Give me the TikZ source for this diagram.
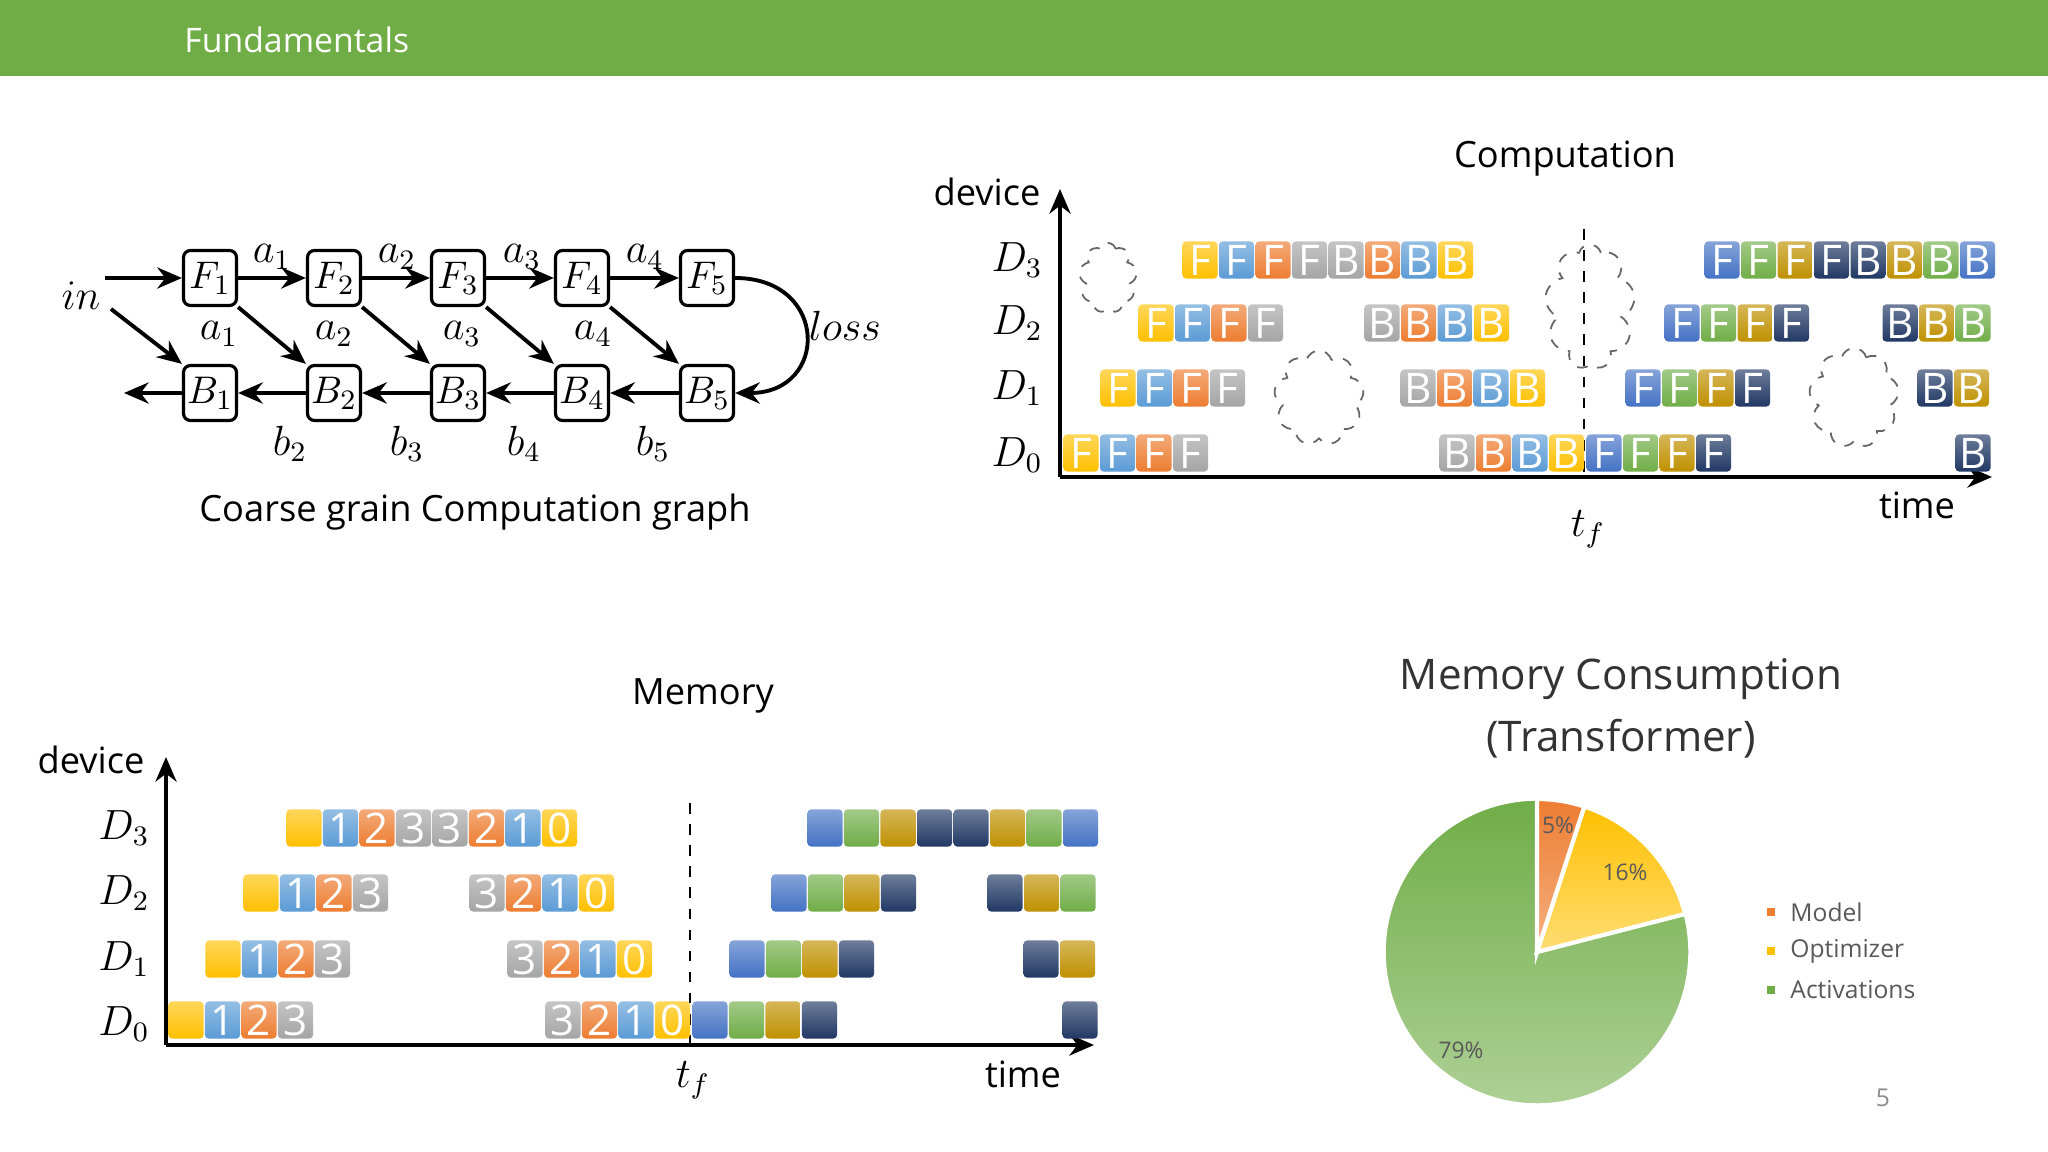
\documentclass[tikz,border=0pt]{standalone}
\usepackage{fontspec}
\setmainfont{Open Sans}
\usetikzlibrary{arrows.meta,shapes.symbols}
\definecolor{hdr}{HTML}{70AD47}
\definecolor{cy}{HTML}{FFC000}
\definecolor{cb}{HTML}{5B9BD5}
\definecolor{co}{HTML}{ED7D31}
\definecolor{cg}{HTML}{A5A5A5}
\definecolor{cb2}{HTML}{4472C4}
\definecolor{cgr}{HTML}{70AD47}
\definecolor{cgo}{HTML}{BF9000}
\definecolor{cn}{HTML}{203864}
\definecolor{txg}{HTML}{595959}
\tikzset{
  blk/.style={minimum width=0.35cm,minimum height=0.37cm,inner sep=0pt,rounded corners=1pt,
    text=white,font=\fontsize{12}{12}\selectfont},
  gbox/.style={draw,line width=0.9pt,fill=white,rounded corners=2pt,minimum width=0.53cm,minimum height=0.55cm,inner sep=0pt,font=\fontsize{11}{13}\selectfont},
  arr/.style={line width=1.1pt,-{Stealth[length=7pt,width=6pt]}},
  ax/.style={line width=1.1pt,-{Stealth[length=7pt,width=6pt]}},
  lbl/.style={font=\fontsize{12}{14}\selectfont},
  ttl/.style={font=\fontsize{10.3}{12}\selectfont},
  thought/.style={cloud,cloud puffs=9,cloud puff arc=150,draw=black!60,dashed,line width=0.5pt,aspect=0.8},
}
\newcommand\rowblk[3]{%
  \foreach [count=\i] \c/\t in {#3} {
    \node[blk,top color=\c!65!white,bottom color=\c] (n#1-#2-\i) at ({#1+18+(\i-1)*36.5},#2) {\t};
  }}
\begin{document}
\begin{tikzpicture}[x=0.01cm,y=-0.01cm]
\useasboundingbox (0,0) rectangle (2048,1152);
\fill[white] (0,0) rectangle (2048,1152);
\fill[hdr] (0,0) rectangle (2048,76);
\node[anchor=west,text=white,font=\fontsize{9.6}{12}\selectfont] (hd) at (172,40) {Fundamentals};

% ---------- computation graph
\foreach \k/\x in {1/210,2/334,3/458,4/582,5/707}{
  \node[gbox] (F\k) at (\x,278) {$F_\k$};
  \node[gbox] (B\k) at (\x,393) {$B_\k$};
}
\node[lbl] (in) at (81,296) {$in$};
\coordinate (inS) at (105,278);
\coordinate (inD) at (111,309);
\coordinate (bout) at (124,393);
\draw[arr] (inS) -- (F1);
\draw[arr] (inD) -- (B1.north west);
\foreach \a/\b in {1/2,2/3,3/4,4/5}{
  \draw[arr] (F\a) -- (F\b);
  \draw[arr] (F\a.south east) -- (B\b.north west);
  \draw[arr] (B\b) -- (B\a);
}
\draw[arr] (B1) -- (bout);
\draw[arr] (F5.east) to[out=0,in=0,looseness=2.1] (B5.east);
\node[lbl] (loss) at (845,326) {$loss$};
\foreach \k/\x in {1/272,2/397,3/522,4/645}{\node[lbl] (at\k) at (\x,257) {$a_\k$};}
\foreach \k/\x in {1/219,2/334,3/462,4/593}{\node[lbl] (ab\k) at (\x,334) {$a_\k$};}
\foreach \k/\x in {2/290,3/407,4/524,5/653}{\node[lbl] (bb\k) at (\x,444) {$b_\k$};}
\node[ttl] (cgt) at (475,512) {Coarse grain Computation graph};

% ---------- computation timeline
\coordinate (cO) at (1060,477);
\coordinate (cY) at (1060,189);
\coordinate (cX) at (1992,477);
\draw[ax] (cO) -- (cY);
\draw[ax] (cO) -- (cX);
\node[ttl] (dev1) at (987,192) {device};
\node[ttl] (comp) at (1565,159) {Computation};
\node[ttl] (time1) at (1917,505) {time};
\node[lbl] (tf1) at (1588,529) {$t_f$};
\foreach \k/\y in {3/260,2/323,1/388,0/455}{\node[lbl] (cD\k) at (1017,\y) {$D_\k$};}
\coordinate (cdt) at (1584,229);
\coordinate (cdb) at (1584,477);
\draw[dashed,line width=0.8pt] (cdt) -- (cdb);
\node[thought,minimum width=0.58cm,minimum height=0.7cm] (cl1) at (1108,278) {};
\node[thought,minimum width=0.9cm,minimum height=0.95cm] (cl2) at (1319,398) {};
\node[thought,minimum width=0.9cm,minimum height=1.25cm] (cl3) at (1590,307) {};
\node[thought,minimum width=0.9cm,minimum height=1.0cm] (cl4) at (1854,398) {};
\rowblk{1182}{260}{cy/F,cb/F,co/F,cg/F,cg/B,co/B,cb/B,cy/B}
\rowblk{1704}{260}{cb2/F,cgr/F,cgo/F,cn/F,cn/B,cgo/B,cgr/B,cb2/B}
\rowblk{1138}{323}{cy/F,cb/F,co/F,cg/F}
\rowblk{1364}{323}{cg/B,co/B,cb/B,cy/B}
\rowblk{1664}{323}{cb2/F,cgr/F,cgo/F,cn/F}
\rowblk{1882}{323}{cn/B,cgo/B,cgr/B}
\rowblk{1100}{388}{cy/F,cb/F,co/F,cg/F}
\rowblk{1400}{388}{cg/B,co/B,cb/B,cy/B}
\rowblk{1625}{388}{cb2/F,cgr/F,cgo/F,cn/F}
\rowblk{1917}{388}{cn/B,cgo/B}
\rowblk{1063}{453}{cy/F,cb/F,co/F,cg/F}
\rowblk{1439}{453}{cg/B,co/B,cb/B,cy/B}
\rowblk{1586}{453}{cb2/F,cgr/F,cgo/F,cn/F}
\rowblk{1955}{453}{cn/B}

% ---------- memory timeline
\coordinate (mO) at (166,1045);
\coordinate (mY) at (166,757);
\coordinate (mX) at (1094,1045);
\draw[ax] (mO) -- (mY);
\draw[ax] (mO) -- (mX);
\node[ttl] (dev2) at (91,760) {device};
\node[ttl] (mem) at (703,696) {Memory};
\node[ttl] (time2) at (1023,1074) {time};
\node[lbl] (tf2) at (693,1080) {$t_f$};
\foreach \k/\y in {3/828,2/893,1/959,0/1024}{\node[lbl] (mD\k) at (124,\y) {$D_\k$};}
\coordinate (mdt) at (690,803);
\coordinate (mdb) at (690,1045);
\draw[dashed,line width=0.8pt] (mdt) -- (mdb);
\rowblk{286}{828}{cy/,cb/1,co/2,cg/3,cg/3,co/2,cb/1,cy/0}
\rowblk{807}{828}{cb2/,cgr/,cgo/,cn/,cn/,cgo/,cgr/,cb2/}
\rowblk{243}{893}{cy/,cb/1,co/2,cg/3}
\rowblk{469}{893}{cg/3,co/2,cb/1,cy/0}
\rowblk{771}{893}{cb2/,cgr/,cgo/,cn/}
\rowblk{987}{893}{cn/,cgo/,cgr/}
\rowblk{205}{959}{cy/,cb/1,co/2,cg/3}
\rowblk{507}{959}{cg/3,co/2,cb/1,cy/0}
\rowblk{729}{959}{cb2/,cgr/,cgo/,cn/}
\rowblk{1023}{959}{cn/,cgo/}
\rowblk{168}{1020}{cy/,cb/1,co/2,cg/3}
\rowblk{545}{1020}{cg/3,co/2,cb/1,cy/0}
\rowblk{692}{1020}{cb2/,cgr/,cgo/,cn/}
\rowblk{1062}{1020}{cn/}

% ---------- pie
\node[font=\fontsize{12}{15}\selectfont,text=black!80] (mc1) at (1621,679) {Memory Consumption};
\node[font=\fontsize{12}{15}\selectfont,text=black!80] (mc2) at (1621,739) {(Transformer)};
\coordinate (pc) at (1537,952);
\shade[top color=cgr,bottom color=cgr!55!white,draw=white,line width=1pt] (pc) -- ++(-14.4:153) arc[start angle=-14.4,end angle=270,radius=153] -- cycle;
\shade[top color=cy,bottom color=cy!55!white,draw=white,line width=1.2pt] (pc) -- ++(-72:153) arc[start angle=-72,end angle=-14.4,radius=153] -- cycle;
\shade[top color=co,bottom color=co!60!white,draw=white,line width=1.2pt] (pc) -- ++(-90:153) arc[start angle=-90,end angle=-72,radius=153] -- cycle;
\node[font=\fontsize{6.5}{8}\selectfont,text=txg] (p5) at (1558,825) {5\%};
\node[font=\fontsize{6.5}{8}\selectfont,text=txg] (p16) at (1625,872) {16\%};
\node[font=\fontsize{6.5}{8}\selectfont,text=txg] (p79) at (1461,1050) {79\%};
\foreach \c/\t/\y/\n in {co/Model/912/a,cy/Optimizer/951/b,cgr/Activations/990/c}{
  \fill[\c] (1767,\y-4) rectangle (1775,\y+4);
  \node[anchor=west,font=\fontsize{7}{8}\selectfont,text=txg] (lg\n) at (1778,\y) {\t};
}
\node[font=\fontsize{7}{8}\selectfont,text=black!45] (pg) at (1883,1098) {5};
\end{tikzpicture}
\end{document}
